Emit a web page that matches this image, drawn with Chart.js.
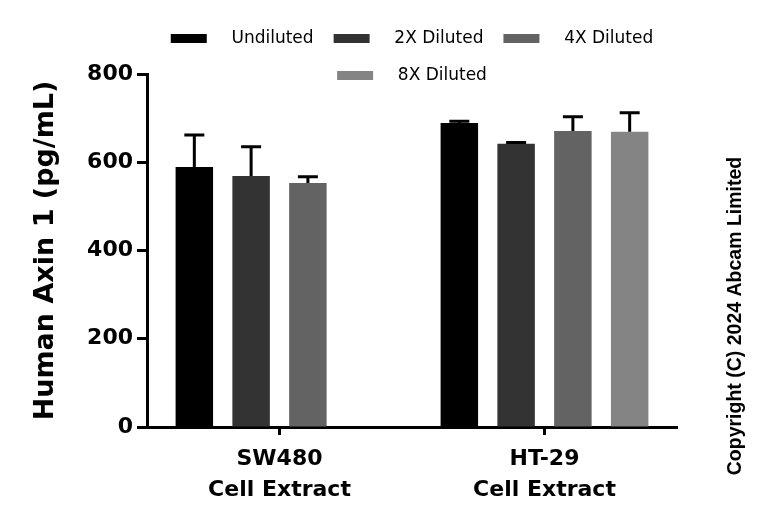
<!DOCTYPE html>
<html>
<head>
<meta charset="utf-8">
<script src="https://cdn.jsdelivr.net/npm/chart.js@4"></script>
<style>
  body { margin: 0; background: #fff; }
  #wrap { width: 768px; height: 529px; }
</style>
</head>
<body>
<div id="wrap"><canvas id="myChart"></canvas></div>
<script>
const ctx = document.getElementById('myChart')
const labels = [["SW480", "Cell Extract"], ["HT-29", "Cell Extract"]]
const seriesNames = ["Undiluted", "2X Diluted", "4X Diluted", "8X Diluted"]
const undiluted = [589, 689]
const diluted2x = [569, 642]
const diluted4x = [553, 671]
const diluted8x = [null, 669]
const undilutedErr = [73, 4]
const diluted2xErr = [66, 3]
const diluted4xErr = [14, 32]
const diluted8xErr = [null, 43]
const yTicks = [0, 200, 400, 600, 800]
const colors = ['#000000', '#333333', '#636363', '#848484']

const FONT = 'DejaVu Sans'

// upper error bars with a cap
const errorBars = {
  id: 'errorBars',
  afterDatasetsDraw(chart) {
    const c = chart.ctx
    const y = chart.scales.y
    c.save()
    c.strokeStyle = '#000'
    c.lineWidth = 3
    chart.data.datasets.forEach((ds, i) => {
      chart.getDatasetMeta(i).data.forEach((bar, j) => {
        const v = ds.data[j], e = ds.errors[j]
        if (v == null || !e) return
        const top = y.getPixelForValue(v + e)
        c.beginPath()
        c.moveTo(bar.x, bar.y)
        c.lineTo(bar.x, top)
        c.moveTo(bar.x - 10, top)
        c.lineTo(bar.x + 10, top)
        c.stroke()
      })
    })
    c.restore()
  }
}

// the second legend row hangs down beside the top of the axis, so let the legend draw past its box
const legendOverflow = {
  id: 'legendOverflow',
  afterLayout(chart) {
    chart.legend.bottom += 24
    chart.legend.height += 24
  }
}

const copyright = {
  id: 'copyright',
  afterDraw(chart) {
    const c = chart.ctx
    c.save()
    c.translate(741, 316)
    c.rotate(-Math.PI / 2)
    c.font = 'bold 19.5px "Liberation Sans"'
    c.fillStyle = '#000'
    c.textAlign = 'center'
    c.textBaseline = 'alphabetic'
    c.fillText('Copyright (C) 2024 Abcam Limited', 0, 0)
    c.restore()
  }
}

const series = [undiluted, diluted2x, diluted4x, diluted8x]
const errs = [undilutedErr, diluted2xErr, diluted4xErr, diluted8xErr]

new Chart(ctx, {
  type: 'bar',
  data: {
    labels: labels,
    datasets: seriesNames.map((name, i) => ({
      label: name,
      data: series[i],
      errors: errs[i],
      backgroundColor: colors[i],
      borderWidth: 0,
      categoryPercentage: 0.857,
      barPercentage: 0.66
    }))
  },
  options: {
    responsive: true,
    maintainAspectRatio: false,
    animation: false,
    layout: { padding: { top: 10, right: 91, bottom: 0, left: 30 } },
    plugins: {
      legend: {
        position: 'top',
        fullSize: false,
        maxHeight: 64,
        labels: {
          boxWidth: 36,
          boxHeight: 9,
          padding: 20,
          color: '#000',
          font: { family: FONT, size: 17 },
          // a little extra room between the swatch and the text
          generateLabels: chart => Chart.defaults.plugins.legend.labels.generateLabels(chart)
            .map(item => ({ ...item, text: '   ' + item.text }))
        }
      },
      tooltip: { enabled: false }
    },
    scales: {
      y: {
        min: 0,
        max: 800,
        afterBuildTicks: s => { s.ticks = yTicks.map(v => ({ value: v })) },
        afterFit: s => { s.width = 117 },
        ticks: { color: '#000', padding: 4, font: { family: FONT, size: 22, weight: 'bold' } },
        grid: { drawOnChartArea: false, tickLength: 10, tickWidth: 3, tickColor: '#000' },
        border: { color: '#000', width: 3 },
        title: {
          display: true,
          text: 'Human Axin 1 (pg/mL)',
          color: '#000',
          padding: 0,
          font: { family: FONT, size: 27, weight: 'bold' }
        }
      },
      x: {
        afterFit: s => { s.height = 102 },
        ticks: { color: '#000', padding: 9, font: { family: FONT, size: 22, weight: 'bold', lineHeight: 1.4 } },
        grid: { offset: false, drawOnChartArea: false, tickLength: 8, tickWidth: 3, tickColor: '#000' },
        border: { color: '#000', width: 3 }
      }
    }
  },
  plugins: [errorBars, legendOverflow, copyright]
})
</script>
</body>
</html>
